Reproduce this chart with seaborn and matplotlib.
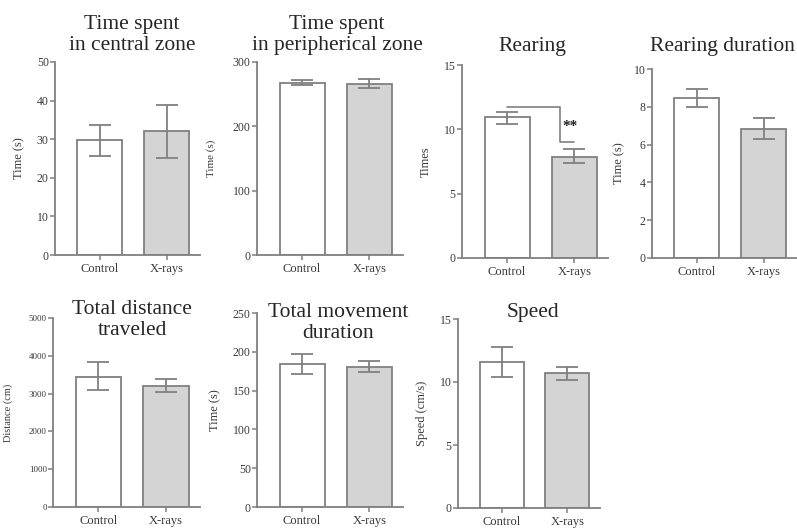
import matplotlib
matplotlib.use('Agg')
import matplotlib.pyplot as plt
import seaborn as sns
import pandas as pd

# 数据
groups = ['Control', 'X-rays']

central_mean = [29.8, 32.1]
central_low = [25.6, 25.1]
central_high = [33.7, 38.9]

periph_mean = [268, 266]
periph_low = [264, 259]
periph_high = [272, 273.5]

rearing_mean = [10.95, 7.85]
rearing_low = [10.45, 7.35]
rearing_high = [11.35, 8.47]

rear_dur_mean = [8.45, 6.83]
rear_dur_low = [7.97, 6.28]
rear_dur_high = [8.92, 7.39]

distance_mean = [3450, 3200]
distance_low = [3100, 3040]
distance_high = [3840, 3390]

movement_mean = [184.6, 180.8]
movement_low = [171.8, 174.4]
movement_high = [197.4, 188.5]

speed_mean = [11.55, 10.68]
speed_low = [10.37, 10.13]
speed_high = [12.8, 11.23]

W, H = 797, 530
EDGE = '#808080'
TICKCOL = '#3a3a3a'

sns.set_style('ticks')
plt.rcParams['font.family'] = ['Liberation Serif', 'DejaVu Serif']

# 每个子图: 标题, y轴标签, 数据, y上限, 刻度, 像素位置(l, r, top, bottom), 标题位置, ylabel x位置
panels = [
    dict(title='Time spent\nin central zone', ylabel='Time (s)',
         mean=central_mean, low=central_low, high=central_high,
         ymax=50, ticks=[0, 10, 20, 30, 40, 50], box=(55, 200, 62, 255),
         tpos=(132, 35), ylx=25, tsize=8.5, lsize=9),
    dict(title='Time spent\nin peripherical zone', ylabel='Time (s)',
         mean=periph_mean, low=periph_low, high=periph_high,
         ymax=300, ticks=[0, 100, 200, 300], box=(257, 403, 62, 255),
         tpos=(337, 35), ylx=216, tsize=8.5, lsize=8),
    dict(title='Rearing', ylabel='Times',
         mean=rearing_mean, low=rearing_low, high=rearing_high,
         ymax=15, ticks=[0, 5, 10, 15], box=(462, 608, 65, 258),
         tpos=(532, 47), ylx=432, tsize=8.5, lsize=9),
    dict(title='Rearing duration', ylabel='Time (s)',
         mean=rear_dur_mean, low=rear_dur_low, high=rear_dur_high,
         ymax=10, ticks=[0, 2, 4, 6, 8, 10], box=(652, 797, 69, 258),
         tpos=(722, 47), ylx=625, tsize=8.5, lsize=9),
    dict(title='Total distance\ntraveled', ylabel='Distance (cm)',
         mean=distance_mean, low=distance_low, high=distance_high,
         ymax=5000, ticks=[0, 1000, 2000, 3000, 4000, 5000], box=(53, 200, 318, 507),
         tpos=(132, 320), ylx=13, tsize=6.5, lsize=7.5),
    dict(title='Total movement\nduration', ylabel='Time (s)',
         mean=movement_mean, low=movement_low, high=movement_high,
         ymax=250, ticks=[0, 50, 100, 150, 200, 250], box=(257, 403, 313, 507),
         tpos=(338, 323), ylx=221, tsize=8.5, lsize=9),
    dict(title='Speed', ylabel='Speed (cm/s)',
         mean=speed_mean, low=speed_low, high=speed_high,
         ymax=15, ticks=[0, 5, 10, 15], box=(458, 600, 319, 508),
         tpos=(533, 312), ylx=428, tsize=8.5, lsize=9),
]

fig = plt.figure(figsize=(W / 100, H / 100), dpi=100)

axes = []
for p in panels:
    l, r, t, b = p['box']
    ax = fig.add_axes([l / W, 1 - b / H, (r - l) / W, (b - t) / H])
    df = pd.DataFrame({'group': groups, 'value': p['mean']})
    sns.barplot(data=df, x='group', y='value', hue='group',
                palette=['white', '#d4d4d4'], edgecolor=EDGE, linewidth=1.3,
                width=0.67, errorbar=None, legend=False, ax=ax)
    yerr = [[m - lo for m, lo in zip(p['mean'], p['low'])],
            [hi - m for m, hi in zip(p['mean'], p['high'])]]
    ax.errorbar(x=[0, 1], y=p['mean'], yerr=yerr, fmt='none', ecolor=EDGE,
                elinewidth=1.3, capsize=8, capthick=1.3, zorder=5)

    ax.set_xlim(-0.67, 1.5)
    ax.set_ylim(0, p['ymax'])
    ax.set_yticks(p['ticks'])
    ax.set_xlabel('')
    ax.set_ylabel(p['ylabel'], fontsize=p['lsize'], color=TICKCOL)
    ax.yaxis.set_label_coords((p['ylx'] - l) / (r - l), 0.5)
    for s in ['top', 'right']:
        ax.spines[s].set_visible(False)
    for s in ['left', 'bottom']:
        ax.spines[s].set_color(EDGE)
        ax.spines[s].set_linewidth(1.3)
    ax.tick_params(axis='both', direction='out', length=3.5, width=1.1, color=EDGE,
                   labelcolor=TICKCOL)
    ax.tick_params(axis='y', labelsize=p['tsize'], pad=1)
    ax.tick_params(axis='x', labelsize=9, pad=2)
    ax.patch.set_alpha(0)

    tx, ty = p['tpos']
    fig.text(tx / W, 1 - ty / H, p['title'], ha='center', va='center',
             fontsize=15.5, multialignment='center', linespacing=1.15)
    axes.append(ax)

# 显著性标记 (Rearing)
ax = axes[2]
ax.plot([0, 0.79, 0.79, 1.0], [11.73, 11.73, 9.0, 9.0], color=EDGE, lw=1.2)
ax.text(0.93, 10.25, '**', ha='center', va='center', fontsize=11,
        fontweight='bold', color='#222222')

fig.savefig('out.png', dpi=100)
